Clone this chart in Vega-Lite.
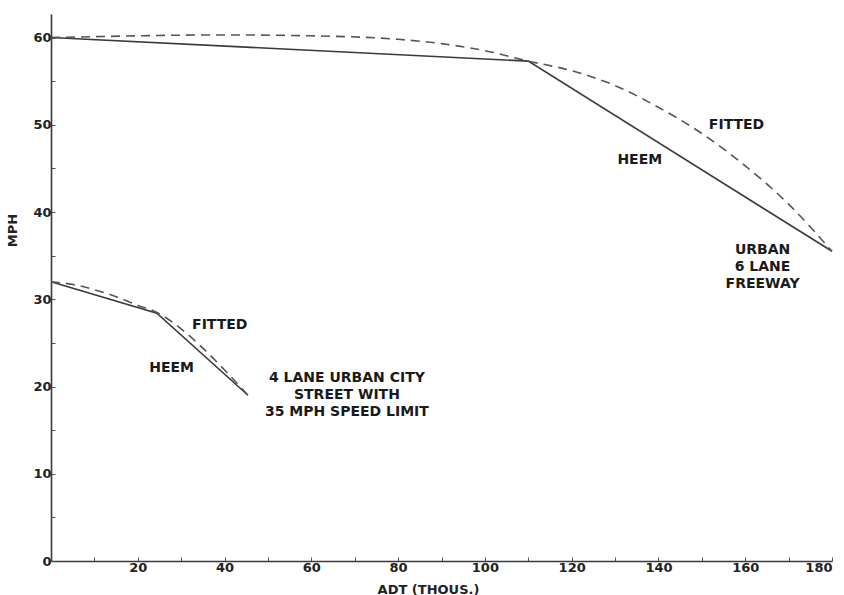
{
  "$schema": "https://vega.github.io/schema/vega-lite/v6.json",
  "width": 781,
  "height": 547,
  "autosize": {"type": "none"},
  "padding": {"left": 51, "top": 14, "right": 12, "bottom": 34},
  "background": "white",
  "config": {
    "view": {"stroke": null},
    "font": "DejaVu Sans",
    "axis": {
      "domainColor": "#3a3a3a",
      "domainWidth": 1.6,
      "tickColor": "#555",
      "tickWidth": 1,
      "tickSize": -4,
      "grid": false,
      "labelFont": "DejaVu Sans",
      "labelFontWeight": "bold",
      "labelFontSize": 13,
      "labelColor": "#222",
      "titleFont": "DejaVu Sans",
      "titleFontWeight": "bold",
      "titleFontSize": 13,
      "titleColor": "#222"
    }
  },
  "datasets": {
    "curves": [
      {"group": "freeway", "model": "HEEM", "adt": 0, "mph": 60.0},
      {"group": "freeway", "model": "HEEM", "adt": 110, "mph": 57.3},
      {"group": "freeway", "model": "HEEM", "adt": 180, "mph": 35.5},
      {"group": "freeway", "model": "FITTED", "adt": 0, "mph": 60.0},
      {"group": "freeway", "model": "FITTED", "adt": 10, "mph": 60.1},
      {"group": "freeway", "model": "FITTED", "adt": 20, "mph": 60.2},
      {"group": "freeway", "model": "FITTED", "adt": 40, "mph": 60.3},
      {"group": "freeway", "model": "FITTED", "adt": 60, "mph": 60.2},
      {"group": "freeway", "model": "FITTED", "adt": 80, "mph": 59.8},
      {"group": "freeway", "model": "FITTED", "adt": 90, "mph": 59.3},
      {"group": "freeway", "model": "FITTED", "adt": 100, "mph": 58.5},
      {"group": "freeway", "model": "FITTED", "adt": 110, "mph": 57.3},
      {"group": "freeway", "model": "FITTED", "adt": 120, "mph": 56.2},
      {"group": "freeway", "model": "FITTED", "adt": 130, "mph": 54.5},
      {"group": "freeway", "model": "FITTED", "adt": 140, "mph": 52.0},
      {"group": "freeway", "model": "FITTED", "adt": 150, "mph": 49.0},
      {"group": "freeway", "model": "FITTED", "adt": 160, "mph": 45.3},
      {"group": "freeway", "model": "FITTED", "adt": 170, "mph": 40.9},
      {"group": "freeway", "model": "FITTED", "adt": 180, "mph": 35.5},
      {"group": "street", "model": "HEEM", "adt": 0, "mph": 32.0},
      {"group": "street", "model": "HEEM", "adt": 24.4, "mph": 28.4},
      {"group": "street", "model": "HEEM", "adt": 45.4, "mph": 19.0},
      {"group": "street", "model": "FITTED", "adt": 0, "mph": 32.0},
      {"group": "street", "model": "FITTED", "adt": 5, "mph": 31.7},
      {"group": "street", "model": "FITTED", "adt": 10, "mph": 31.1},
      {"group": "street", "model": "FITTED", "adt": 15, "mph": 30.3},
      {"group": "street", "model": "FITTED", "adt": 20, "mph": 29.3},
      {"group": "street", "model": "FITTED", "adt": 24.4, "mph": 28.5},
      {"group": "street", "model": "FITTED", "adt": 30, "mph": 26.6},
      {"group": "street", "model": "FITTED", "adt": 35, "mph": 24.4},
      {"group": "street", "model": "FITTED", "adt": 40, "mph": 21.9},
      {"group": "street", "model": "FITTED", "adt": 45.4, "mph": 19.0}
    ],
    "notes": [
      {"label": "FITTED", "adt": 158, "mph": 50.0},
      {"label": "HEEM", "adt": 135.7, "mph": 46.0},
      {"label": "URBAN\n6 LANE\nFREEWAY", "adt": 164, "mph": 35.7},
      {"label": "FITTED", "adt": 38.9, "mph": 27.1},
      {"label": "HEEM", "adt": 27.8, "mph": 22.1},
      {"label": "4 LANE URBAN CITY\nSTREET WITH\n35 MPH SPEED LIMIT", "adt": 68.2, "mph": 21.0}
    ]
  },
  "layer": [
    {
      "data": {"name": "curves"},
      "transform": [{"filter": "datum.model == 'HEEM'"}],
      "mark": {"type": "line", "color": "#3a3a3a", "strokeWidth": 1.6},
      "encoding": {
        "x": {
          "field": "adt", "type": "quantitative",
          "scale": {"domain": [0, 180], "nice": false, "zero": false},
          "axis": {
            "title": "ADT (THOUS.)",
            "values": [0, 10, 20, 30, 40, 50, 60, 70, 80, 90, 100, 110, 120, 130, 140, 150, 160, 170, 180],
            "labelExpr": "datum.value % 20 == 0 && datum.value > 0 ? datum.label : ''",
            "labelPadding": 4,
            "titleX": 377,
            "titleY": 28,
            "titleBaseline": "middle",
            "titleAnchor": null,
            "titleAlign": "center"
          }
        },
        "y": {
          "field": "mph", "type": "quantitative",
          "scale": {"domain": [0, 62.7], "nice": false, "zero": false},
          "axis": {
            "title": "MPH",
            "values": [0, 5, 10, 15, 20, 25, 30, 35, 40, 45, 50, 55, 60],
            "labelExpr": "datum.value % 10 == 0 ? datum.label : ''",
            "labelPadding": 4,
            "titleX": -39,
            "titleY": 216,
            "titleBaseline": "middle",
            "titleAlign": "center",
            "titleAnchor": null
          }
        },
        "detail": {"field": "group"}
      }
    },
    {
      "data": {"name": "curves"},
      "transform": [{"filter": "datum.model == 'FITTED'"}],
      "mark": {"type": "line", "color": "#555", "strokeWidth": 1.6, "strokeDash": [9, 6], "interpolate": "monotone"},
      "encoding": {
        "x": {"field": "adt", "type": "quantitative"},
        "y": {"field": "mph", "type": "quantitative"},
        "detail": {"field": "group"}
      }
    },
    {
      "data": {"name": "notes"},
      "mark": {"type": "text", "font": "DejaVu Sans", "fontWeight": "bold", "fontSize": 14, "color": "#1a1a1a", "lineBreak": "\n", "lineHeight": 17, "align": "center", "baseline": "middle"},
      "encoding": {
        "x": {"field": "adt", "type": "quantitative"},
        "y": {"field": "mph", "type": "quantitative"},
        "text": {"field": "label"}
      }
    }
  ]
}
